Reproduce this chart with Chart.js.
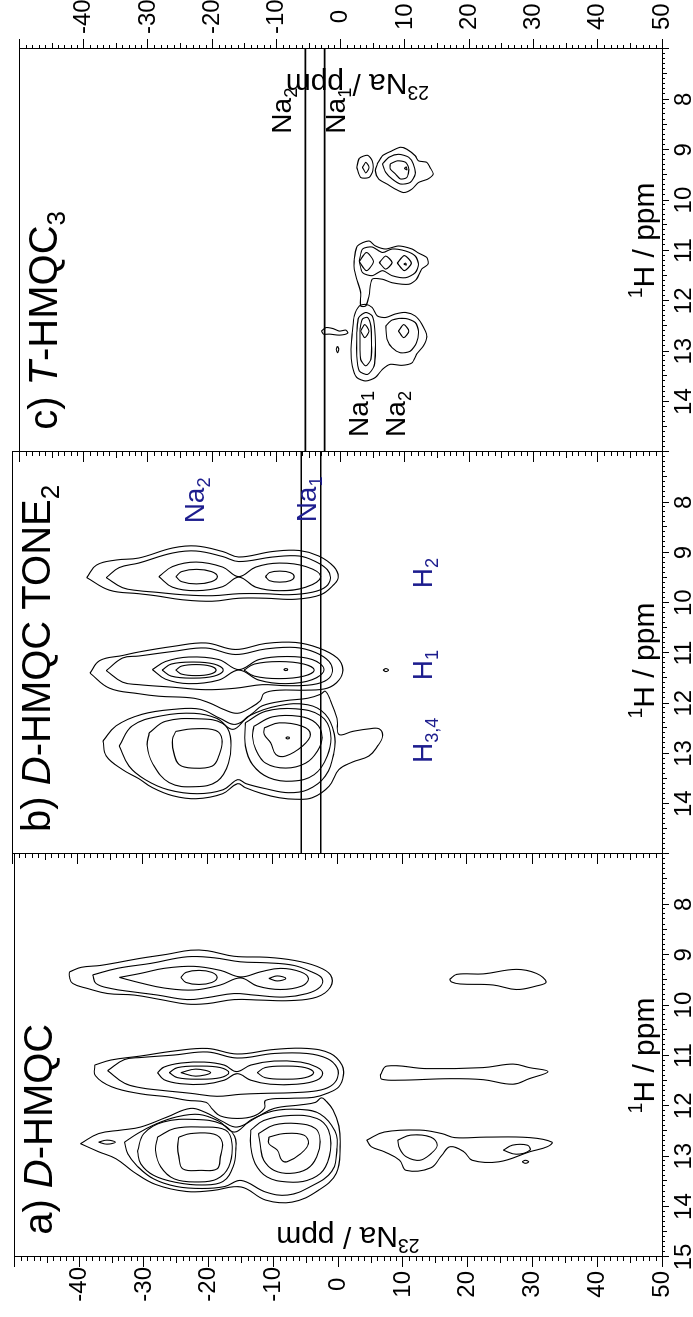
<!DOCTYPE html>
<html><head><meta charset="utf-8">
<script src="https://cdn.jsdelivr.net/npm/chart.js@4.4.1/dist/chart.umd.min.js"></script>
<style>
html,body{margin:0;padding:0;background:#fff;}
body{width:693px;height:1317px;overflow:hidden;position:relative;}
#land{position:absolute;left:0;top:0;width:1317px;height:693px;transform-origin:0 0;transform:rotate(-90deg) translateX(-1317px);}
#land canvas{position:absolute;left:0;top:0;}
</style></head><body>
<div id="land">
<canvas id="ca" width="1317" height="693"></canvas>
<canvas id="cb" width="1317" height="693"></canvas>
<canvas id="cc" width="1317" height="693"></canvas>
</div>
<script>
// ---------- axis values ----------
const H_TICKS = [7, 8, 9, 10, 11, 12, 13, 14, 15];          // 1H / ppm
const H_LABELS_A = [8, 9, 10, 11, 12, 13, 14, 15];
const H_LABELS_BC = [8, 9, 10, 11, 12, 13, 14];
const NA_TICKS = [-50, -40, -30, -20, -10, 0, 10, 20, 30, 40, 50]; // 23Na / ppm
const NA_LABELS = [-40, -30, -20, -10, 0, 10, 20, 30, 40, 50];
const NA_REF_LINES = [-5.5, -2.5];   // Na2, Na1 reference shifts

// ---------- contour lines, each point = [23Na ppm, 1H ppm] ----------
// panel a) D-HMQC
const a_H2 = [
 [[-41.5,9.34],[-39.7,9.25],[-36.6,9.21],[-30.5,9.07],[-26.4,8.99],[-22.8,8.91],[-20.2,8.92],[-16.1,9.03],[-11.0,9.05],[-6.9,9.11],[-3.3,9.23],[-1.2,9.40],[-1.2,9.64],[-3.3,9.84],[-7.4,9.91],[-12.0,9.90],[-16.1,9.89],[-20.2,9.97],[-23.3,9.98],[-27.4,9.89],[-31.5,9.80],[-35.6,9.77],[-38.7,9.67],[-41.0,9.57],[-41.5,9.44]],
 [[-37.9,9.40],[-34.1,9.27],[-28.9,9.17],[-23.3,9.04],[-19.2,9.06],[-15.1,9.14],[-11.0,9.16],[-6.9,9.21],[-4.1,9.34],[-2.5,9.47],[-2.8,9.64],[-4.8,9.77],[-8.4,9.84],[-13.0,9.80],[-16.1,9.77],[-20.2,9.85],[-23.3,9.89],[-27.9,9.80],[-31.5,9.74],[-35.1,9.67],[-37.4,9.57]],
 [[-33.8,9.45],[-30.5,9.37],[-26.9,9.27],[-22.3,9.23],[-18.2,9.31],[-15.1,9.44],[-12.0,9.34],[-8.9,9.27],[-5.8,9.34],[-4.6,9.47],[-5.6,9.62],[-8.9,9.69],[-12.5,9.62],[-15.1,9.46],[-18.2,9.60],[-22.3,9.70],[-26.9,9.66],[-30.5,9.56]],
 [[-24.3,9.45],[-23.5,9.35],[-21.5,9.31],[-19.5,9.35],[-18.7,9.45],[-19.5,9.55],[-21.5,9.59],[-23.5,9.55]],
 [[-10.7,9.47],[-9.4,9.42],[-8.1,9.47],[-9.4,9.52]]
];
const a_H1 = [
 [[-37.6,11.19],[-35.1,11.09],[-30.5,11.01],[-25.3,10.91],[-20.2,10.86],[-15.6,10.97],[-9.9,10.88],[-4.8,10.86],[-1.2,10.96],[0.6,11.19],[0.8,11.39],[0.1,11.62],[-1.7,11.75],[-3.8,11.83],[-7.4,11.85],[-11.2,11.89],[-11.4,12.05],[-13.0,12.20],[-15.6,12.25],[-18.2,12.20],[-19.4,12.07],[-20.4,11.93],[-23.3,11.89],[-26.4,11.82],[-30.5,11.76],[-35.0,11.62],[-37.5,11.40]],
 [[-35.6,11.30],[-33.0,11.08],[-30.5,11.04],[-25.3,10.99],[-20.2,10.93],[-15.6,11.05],[-9.9,10.96],[-4.8,10.96],[-1.7,11.06],[-0.2,11.24],[-0.1,11.44],[-1.2,11.61],[-3.3,11.70],[-7.4,11.74],[-11.0,11.75],[-15.1,11.77],[-18.7,11.81],[-22.8,11.75],[-27.4,11.69],[-30.5,11.64],[-33.0,11.55]],
 [[-27.9,11.34],[-26.9,11.23],[-24.3,11.15],[-20.7,11.13],[-17.6,11.19],[-15.7,11.32],[-13.5,11.19],[-9.9,11.11],[-5.8,11.13],[-3.3,11.23],[-2.4,11.35],[-3.3,11.49],[-6.4,11.57],[-10.5,11.57],[-13.5,11.49],[-15.6,11.36],[-17.6,11.49],[-20.7,11.57],[-24.3,11.56],[-26.9,11.48]],
 [[-26.1,11.34],[-24.8,11.24],[-21.5,11.21],[-18.2,11.24],[-16.9,11.34],[-18.2,11.44],[-21.5,11.47],[-24.8,11.44]],
 [[-12.5,11.34],[-11.3,11.24],[-8.2,11.21],[-5.1,11.24],[-3.8,11.34],[-5.1,11.44],[-8.2,11.47],[-11.3,11.44]],
 [[-24.3,11.34],[-22.0,11.27],[-19.7,11.34],[-22.0,11.41]]
];
const a_H34 = [
 [[-39.8,12.75],[-37.0,12.55],[-33.5,12.48],[-30.5,12.42],[-26.4,12.22],[-22.8,12.05],[-20.5,12.13],[-18.0,12.30],[-15.6,12.42],[-12.5,12.22],[-9.9,12.05],[-5.8,11.98],[-3.5,11.93],[-2.6,11.84],[-1.9,11.90],[-0.8,12.08],[0.1,12.40],[0.3,12.81],[-0.3,13.34],[-3.1,13.68],[-7.1,13.91],[-11.2,13.87],[-15.0,13.61],[-19.4,13.68],[-23.4,13.70],[-28.2,13.56],[-31.6,13.31],[-34.3,13.05],[-37.0,12.91]],
 [[-33.0,12.72],[-31.0,12.55],[-28.5,12.38],[-25.0,12.22],[-21.5,12.17],[-18.5,12.30],[-16.0,12.52],[-13.5,12.28],[-10.0,12.10],[-6.0,12.07],[-2.8,12.16],[-0.5,12.50],[-0.2,12.85],[-1.0,13.30],[-4.4,13.61],[-7.8,13.77],[-11.2,13.71],[-15.0,13.48],[-17.5,13.60],[-21.0,13.64],[-25.0,13.60],[-28.5,13.45],[-31.0,13.20],[-32.5,12.95]],
 [[-31.0,12.90],[-30.0,12.55],[-27.0,12.32],[-22.0,12.27],[-18.0,12.36],[-16.0,12.60],[-15.8,12.85],[-16.2,13.20],[-17.8,13.50],[-21.0,13.57],[-25.0,13.52],[-28.5,13.38],[-30.5,13.15]],
 [[-27.9,12.62],[-25.3,12.45],[-21.2,12.42],[-17.4,12.48],[-16.4,12.75],[-16.9,13.21],[-18.7,13.45],[-21.7,13.51],[-25.3,13.45],[-27.4,13.21],[-28.2,12.88]],
 [[-24.6,12.62],[-22.8,12.55],[-19.2,12.56],[-17.9,12.72],[-18.2,13.01],[-18.7,13.25],[-21.2,13.28],[-24.0,13.25],[-24.6,13.01],[-24.8,12.81]],
 [[-13.5,12.48],[-11.5,12.29],[-7.4,12.19],[-3.3,12.25],[-1.5,12.48],[-1.2,12.88],[-2.3,13.28],[-4.8,13.48],[-7.9,13.51],[-11.0,13.41],[-12.8,13.15],[-13.5,12.81]],
 [[-12.3,12.55],[-9.9,12.38],[-6.4,12.35],[-3.5,12.45],[-2.8,12.68],[-3.3,13.01],[-4.8,13.25],[-7.4,13.34],[-9.9,13.28],[-11.5,13.08],[-12.0,12.81]],
 [[-10.7,12.62],[-8.4,12.55],[-5.3,12.58],[-4.6,12.75],[-5.8,12.95],[-7.9,13.11],[-8.7,13.08],[-9.4,12.88],[-10.7,12.75]],
 [[-37.0,12.72],[-35.7,12.68],[-34.4,12.72],[-35.7,12.76]]
];
const a_pos = [
 [[17.2,9.49],[18.3,9.39],[22.4,9.38],[27.5,9.29],[30.6,9.37],[32.1,9.54],[30.6,9.62],[27.5,9.69],[23.9,9.60],[18.8,9.58],[17.5,9.54]],
 [[6.5,11.39],[7.5,11.21],[13.6,11.26],[22.4,11.24],[27.0,11.17],[29.5,11.24],[32.4,11.32],[29.5,11.46],[27.0,11.57],[22.4,11.48],[17.2,11.46],[9.5,11.49],[6.7,11.47]],
 [[4.4,12.68],[7.1,12.52],[12.6,12.48],[16.0,12.55],[18.0,12.63],[22.8,12.62],[29.6,12.63],[33.0,12.72],[32.3,12.81],[29.6,12.91],[24.8,13.11],[20.7,13.08],[19.4,12.91],[17.3,12.81],[16.0,12.98],[14.3,13.23],[10.5,13.28],[9.5,13.08],[7.1,12.91],[5.1,12.81]],
 [[9.2,12.68],[11.2,12.58],[14.3,12.62],[15.3,12.78],[14.3,12.95],[12.6,13.08],[10.5,13.01],[9.5,12.85]],
 [[25.5,12.88],[26.9,12.78],[29.2,12.78],[29.6,12.88],[27.5,12.96]],
 [[28.4,13.11],[28.9,13.08],[29.4,13.11],[28.9,13.14]]
];
// panel b) D-HMQC TONE2
const b_H2 = [
 [[-38.5,9.50],[-37.0,9.25],[-34.0,9.15],[-30.5,9.11],[-25.3,8.91],[-21.7,8.87],[-17.6,8.98],[-15.1,9.09],[-9.9,8.98],[-5.8,8.96],[-2.8,9.07],[-0.5,9.28],[0.2,9.49],[-0.5,9.64],[-2.5,9.84],[-6.4,9.93],[-11.0,9.91],[-15.1,9.91],[-19.2,9.97],[-23.8,9.94],[-27.9,9.86],[-30.5,9.82],[-35.0,9.75]],
 [[-35.5,9.50],[-33.5,9.30],[-30.5,9.21],[-25.3,9.01],[-21.7,8.97],[-17.6,9.08],[-15.1,9.18],[-9.9,9.09],[-5.8,9.07],[-3.3,9.18],[-1.5,9.34],[-1.0,9.51],[-1.7,9.68],[-3.8,9.79],[-7.4,9.84],[-11.0,9.82],[-15.1,9.82],[-19.2,9.86],[-23.8,9.84],[-27.9,9.79],[-30.5,9.76],[-33.0,9.70]],
 [[-27.4,9.48],[-25.3,9.28],[-21.7,9.19],[-17.6,9.29],[-15.1,9.48],[-12.5,9.29],[-8.9,9.21],[-4.8,9.28],[-2.5,9.48],[-4.8,9.69],[-8.9,9.76],[-12.5,9.69],[-15.1,9.49],[-17.6,9.68],[-21.7,9.76],[-25.3,9.69]],
 [[-24.8,9.48],[-23.9,9.38],[-21.6,9.335],[-19.3,9.38],[-18.4,9.48],[-19.3,9.58],[-21.6,9.625],[-23.9,9.58]],
 [[-11.0,9.48],[-10.4,9.40],[-8.8,9.37],[-7.2,9.40],[-6.6,9.48],[-7.2,9.56],[-8.8,9.59],[-10.4,9.56]]
];
const b_H1 = [
 [[-38.0,11.40],[-36.5,11.15],[-33.0,11.05],[-30.5,10.98],[-25.3,10.87],[-20.2,10.80],[-15.6,10.93],[-11.0,10.81],[-6.4,10.79],[-2.8,10.90],[0.05,11.10],[0.9,11.33],[0.3,11.54],[-1.5,11.70],[-4.8,11.74],[-8.9,11.74],[-11.2,11.80],[-11.8,11.95],[-13.2,12.08],[-15.3,12.20],[-17.5,12.12],[-19.5,12.00],[-22.0,11.90],[-27.4,11.86],[-30.5,11.81],[-35.0,11.70]],
 [[-35.5,11.35],[-33.0,11.10],[-30.5,11.06],[-25.3,10.97],[-20.2,10.90],[-15.6,11.03],[-11.0,10.92],[-6.4,10.89],[-3.3,10.99],[-1.2,11.17],[-0.7,11.36],[-1.5,11.53],[-3.8,11.63],[-7.9,11.65],[-11.5,11.63],[-15.6,11.70],[-20.2,11.73],[-25.3,11.68],[-30.5,11.63],[-33.0,11.58]],
 [[-28.4,11.33],[-26.4,11.17],[-22.8,11.08],[-18.2,11.13],[-15.1,11.33],[-12.0,11.13],[-7.9,11.07],[-3.8,11.13],[-2.0,11.33],[-3.8,11.53],[-7.9,11.61],[-12.0,11.54],[-15.1,11.34],[-18.2,11.54],[-22.8,11.61],[-26.4,11.52]],
 [[-26.9,11.34],[-25.5,11.22],[-22.2,11.18],[-18.9,11.22],[-17.5,11.34],[-18.9,11.46],[-22.2,11.50],[-25.5,11.46]],
 [[-24.8,11.34],[-23.9,11.26],[-21.7,11.23],[-19.5,11.26],[-18.6,11.34],[-19.5,11.42],[-21.7,11.45],[-23.9,11.42]],
 [[-14.3,11.34],[-12.7,11.22],[-8.9,11.17],[-5.1,11.22],[-3.5,11.34],[-5.1,11.46],[-8.9,11.51],[-12.7,11.46]],
 [[-8.2,11.33],[-7.9,11.31],[-7.6,11.33],[-7.9,11.35]],
 [[7.1,11.34],[7.5,11.31],[7.9,11.34],[7.5,11.37]]
];
const b_H34 = [
 [[-36.0,12.75],[-34.0,12.45],[-30.0,12.22],[-25.0,12.12],[-21.0,12.12],[-18.0,12.30],[-15.6,12.42],[-13.0,12.20],[-11.5,12.05],[-8.0,11.95],[-4.5,11.90],[-2.5,11.82],[-1.8,11.76],[-1.0,11.95],[0.0,12.30],[0.3,12.62],[2.4,12.56],[4.9,12.51],[6.5,12.51],[7.0,12.66],[6.2,12.86],[4.9,13.05],[2.4,13.17],[0.3,13.32],[-1.2,13.65],[-3.8,13.88],[-6.4,13.91],[-8.9,13.88],[-11.5,13.80],[-14.1,13.68],[-15.3,13.60],[-17.6,13.80],[-21.7,13.90],[-25.3,13.84],[-28.4,13.68],[-30.5,13.50],[-33.0,13.32],[-35.5,13.05]],
 [[-33.5,12.85],[-31.5,12.45],[-27.0,12.25],[-22.0,12.20],[-18.5,12.30],[-16.0,12.52],[-13.5,12.25],[-9.0,12.05],[-4.5,12.03],[-1.8,12.22],[-0.4,12.62],[-0.5,13.00],[-1.8,13.45],[-4.5,13.72],[-7.5,13.78],[-11.0,13.70],[-14.0,13.60],[-15.3,13.52],[-17.5,13.72],[-21.5,13.80],[-26.0,13.72],[-29.5,13.52],[-32.0,13.25]],
 [[-28.9,12.59],[-26.4,12.36],[-21.2,12.31],[-17.6,12.40],[-16.4,12.66],[-16.7,13.19],[-18.4,13.55],[-21.7,13.66],[-25.8,13.58],[-28.4,13.19],[-29.2,12.85]],
 [[-24.8,12.56],[-22.3,12.51],[-18.7,12.54],[-17.7,12.72],[-18.2,13.05],[-19.2,13.25],[-22.3,13.29],[-24.3,13.22],[-25.1,12.99],[-25.3,12.72]],
 [[-14.1,12.39],[-11.0,12.16],[-6.4,12.11],[-2.5,12.25],[-1.0,12.59],[-1.5,13.05],[-3.5,13.42],[-6.9,13.55],[-10.5,13.48],[-13.0,13.22],[-14.1,12.85]],
 [[-12.8,12.46],[-9.9,12.27],[-5.8,12.26],[-3.3,12.39],[-2.3,12.66],[-3.0,12.95],[-4.8,13.19],[-7.9,13.29],[-11.0,13.19],[-12.5,12.92],[-13.0,12.66]],
 [[-11.2,12.49],[-8.9,12.39],[-5.3,12.46],[-4.1,12.62],[-5.3,12.85],[-7.9,13.05],[-9.4,13.02],[-10.2,12.79],[-11.2,12.62]],
 [[-7.9,12.69],[-7.6,12.67],[-7.3,12.69],[-7.6,12.71]]
];
// panel c) T-HMQC3
const c_H2 = [
 [[5.7,9.28],[6.5,9.12],[8.0,9.02],[9.3,8.95],[10.3,8.99],[11.6,9.12],[12.1,9.22],[13.4,9.25],[13.9,9.35],[14.4,9.48],[13.6,9.58],[12.1,9.65],[11.1,9.78],[9.8,9.85],[8.5,9.78],[7.2,9.68],[5.9,9.58],[5.4,9.42]],
 [[2.5,9.35],[2.9,9.17],[4.2,9.11],[4.9,9.22],[5.0,9.42],[4.4,9.55],[3.1,9.55]],
 [[6.5,9.28],[7.5,9.15],[9.0,9.09],[10.6,9.15],[11.3,9.28],[11.6,9.48],[10.8,9.65],[9.3,9.68],[8.0,9.58],[7.0,9.45]],
 [[7.7,9.28],[8.8,9.22],[10.1,9.25],[10.6,9.38],[10.3,9.55],[9.3,9.58],[8.5,9.48],[7.7,9.38]],
 [[3.4,9.35],[3.9,9.25],[4.4,9.35],[3.9,9.46]],
 [[9.9,9.37],[10.2,9.34],[10.3,9.40]]
];
const c_H1 = [
 [[2.1,11.17],[2.6,10.91],[4.4,10.81],[5.4,10.91],[7.0,10.97],[9.0,10.91],[11.1,10.97],[12.1,11.05],[13.4,11.14],[13.6,11.27],[12.6,11.37],[11.8,11.57],[10.6,11.67],[8.0,11.64],[6.5,11.57],[4.9,11.57],[4.4,11.90],[3.9,12.10],[3.1,12.10],[3.1,11.83],[2.5,11.57],[2.1,11.37]],
 [[2.9,11.21],[3.4,10.97],[4.9,10.93],[6.5,11.04],[8.0,10.97],[10.1,11.01],[11.6,11.11],[12.1,11.27],[11.6,11.44],[10.1,11.54],[8.0,11.50],[6.5,11.40],[4.9,11.50],[3.4,11.44]],
 [[2.9,11.22],[4.0,11.04],[5.1,11.22],[4.0,11.40]],
 [[6.0,11.24],[7.0,11.11],[8.0,11.24],[7.0,11.37]],
 [[8.8,11.25],[9.9,11.10],[11.0,11.25],[9.9,11.40]],
 [[9.8,11.27],[10.1,11.25],[10.2,11.29]]
];
const c_H34 = [
 [[1.8,12.63],[2.1,12.30],[2.9,12.10],[3.9,12.07],[4.9,12.13],[5.7,12.30],[7.0,12.33],[8.5,12.26],[10.1,12.23],[11.6,12.30],[12.6,12.46],[13.4,12.70],[12.9,12.89],[11.8,13.06],[11.1,13.23],[9.5,13.28],[7.7,13.26],[6.5,13.36],[5.4,13.52],[3.9,13.59],[2.5,13.52],[1.8,13.29],[1.6,12.96]],
 [[2.5,12.63],[2.8,12.33],[3.9,12.23],[4.9,12.30],[5.3,12.56],[5.4,12.96],[5.2,13.29],[4.2,13.46],[2.9,13.39],[2.5,13.09]],
 [[3.0,12.56],[3.4,12.36],[4.2,12.33],[4.7,12.50],[4.8,12.83],[4.7,13.16],[3.9,13.29],[3.1,13.16],[3.0,12.89]],
 [[3.1,12.60],[3.75,12.47],[4.4,12.60],[3.75,12.73]],
 [[7.0,12.50],[8.0,12.38],[10.1,12.35],[11.6,12.43],[12.1,12.60],[11.8,12.83],[10.8,13.00],[9.3,13.03],[8.0,12.93],[7.2,12.76]],
 [[9.0,12.60],[9.8,12.47],[10.6,12.60],[9.8,12.73]],
 [[-3.0,12.60],[-2.3,12.53],[-1.2,12.55],[-0.2,12.60],[0.8,12.58],[1.1,12.64],[-0.2,12.68],[-1.7,12.66],[-2.7,12.66]],
 [[-0.5,12.90],[-0.3,12.96],[-0.5,13.03],[-0.7,12.96]]
];

// ---------- texts ----------
const TITLE_A = [{t:'a) '},{t:'D',i:1},{t:'-HMQC'}];
const TITLE_B = [{t:'b) '},{t:'D',i:1},{t:'-HMQC TONE'},{t:'2',s:'sub'}];
const TITLE_C = [{t:'c) '},{t:'T',i:1},{t:'-HMQC'},{t:'3',s:'sub'}];
const H_TITLE = [{t:'1',s:'sup'},{t:'H / ppm'}];
const NA_TITLE = [{t:'23',s:'sup'},{t:'Na / ppm'}];
const NA1 = [{t:'Na'},{t:'1',s:'sub'}];
const NA2 = [{t:'Na'},{t:'2',s:'sub'}];
const H1L = [{t:'H'},{t:'1',s:'sub'}];
const H2L = [{t:'H'},{t:'2',s:'sub'}];
const H34L = [{t:'H'},{t:'3,4',s:'sub'}];

const FONT = "'Liberation Sans', Arial, Helvetica, sans-serif";
const BLUE = '#1d1d8e';
Chart.defaults.font.family = FONT;
Chart.defaults.color = '#000';

// anchor of each text in data units (1H, 23Na)
const TEXTS = {
  ca: [
    {p:TITLE_A, h:14.56, n:-44.2, size:40},
    {p:H_TITLE, h:11.0, n:48.8, size:30, align:'center'},
    {p:NA_TITLE, h:14.41, n:1.5, size:30, align:'center', rot:-90}
  ],
  cb: [
    {p:TITLE_B, h:14.56, n:-44.2, size:40},
    {p:H_TITLE, h:11.15, n:48.8, size:30, align:'center'},
    {p:NA2, h:8.42, n:-20.5, size:28, color:BLUE},
    {p:NA1, h:8.40, n:-3.2, size:28, color:BLUE},
    {p:H2L, h:9.71, n:14.6, size:28, color:BLUE},
    {p:H1L, h:11.54, n:14.6, size:28, color:BLUE},
    {p:H34L, h:13.19, n:14.6, size:28, color:BLUE}
  ],
  cc: [
    {p:TITLE_C, h:14.56, n:-44.2, size:40},
    {p:H_TITLE, h:10.8, n:48.8, size:30, align:'center'},
    {p:NA_TITLE, h:7.49, n:2.6, size:30, align:'center', rot:-90},
    {p:NA2, h:8.68, n:-7.8, size:28},
    {p:NA1, h:8.68, n:0.6, size:28},
    {p:NA1, h:14.70, n:4.2, size:28},
    {p:NA2, h:14.70, n:10.0, size:28}
  ]
};

function drawRich(ctx, parts, x, y, size, color, rot, align) {
  ctx.save();
  ctx.translate(x, y);
  if (rot) ctx.rotate(rot * Math.PI / 180);
  ctx.fillStyle = color; ctx.textBaseline = 'alphabetic'; ctx.textAlign = 'left';
  const pieces = parts.map(p => {
    const fs = p.s ? size * 0.65 : size;
    const font = (p.i ? 'italic ' : '') + fs + 'px ' + FONT;
    ctx.font = font;
    return {t:p.t, font, w:ctx.measureText(p.t).width, dy: p.s === 'sub' ? size * 0.22 : (p.s === 'sup' ? -size * 0.4 : 0)};
  });
  const total = pieces.reduce((a, b) => a + b.w, 0);
  let cx = align === 'center' ? -total / 2 : 0;
  for (const p of pieces) { ctx.font = p.font; ctx.fillText(p.t, cx, p.dy); cx += p.w; }
  ctx.restore();
}

const panelText = {
  id: 'panelText',
  afterDraw(chart) {
    const items = TEXTS[chart.canvas.id] || [];
    const xs = chart.scales.x, ys = chart.scales.y;
    for (const it of items) {
      drawRich(chart.ctx, it.p, xs.getPixelForValue(it.h), ys.getPixelForValue(it.n), it.size, it.color || '#000', it.rot || 0, it.align || 'left');
    }
  }
};

const frameAndMinor = {
  id: 'frameAndMinor',
  afterDraw(chart) {
    const ctx = chart.ctx, ca = chart.chartArea;
    ctx.save();
    ctx.strokeStyle = '#000'; ctx.lineWidth = 1;
    ctx.strokeRect(Math.round(ca.left) + 0.5, Math.round(ca.top) + 0.5, Math.round(ca.right - ca.left), Math.round(ca.bottom - ca.top));
    const xs = chart.scales.x;
    for (let i = H_TICKS[0] * 10; i <= H_TICKS[H_TICKS.length - 1] * 10; i++) {
      if (i % 10 === 0) continue;
      const px = Math.round(xs.getPixelForValue(i / 10)) + 0.5;
      const len = (i % 5 === 0) ? 5 : 3;
      ctx.beginPath(); ctx.moveTo(px, ca.bottom); ctx.lineTo(px, ca.bottom + len); ctx.stroke();
    }
    for (const id of Object.keys(chart.scales)) {
      const s = chart.scales[id];
      if (s.axis !== 'y') continue;
      const left = s.position === 'left';
      const x0 = left ? Math.round(ca.left) : Math.round(ca.right);
      for (let v = NA_TICKS[0]; v <= NA_TICKS[NA_TICKS.length - 1]; v++) {
        if (v % 10 === 0) continue;
        const py = Math.round(s.getPixelForValue(v)) + 0.5;
        const len = (v % 5 === 0) ? 6 : 4;
        ctx.beginPath(); ctx.moveTo(x0, py); ctx.lineTo(left ? x0 - len : x0 + len, py); ctx.stroke();
      }
    }
    ctx.restore();
  }
};

function contourSets(groups, tension) {
  const out = [];
  for (const g of groups) for (const c of g) {
    out.push({
      data: c.concat([c[0]]).map(p => ({x: p[1], y: p[0]})),
      showLine: true, pointRadius: 0, borderColor: '#000', borderWidth: 1.1, tension: tension, fill: false
    });
  }
  return out;
}
function refLineSets() {
  return NA_REF_LINES.map(n => ({
    data: [{x: H_TICKS[0], y: n}, {x: H_TICKS[H_TICKS.length - 1], y: n}],
    showLine: true, pointRadius: 0, borderColor: '#000', borderWidth: 1.6, tension: 0
  }));
}

function xScale(labels) {
  return {
    type: 'linear', min: 7, max: 15, reverse: true, position: 'bottom',
    afterBuildTicks: s => { s.ticks = H_TICKS.map(v => ({value: v})); },
    ticks: {font: {size: 24}, color: '#000', padding: 1, maxRotation: 0, autoSkip: false,
            callback: v => labels.includes(v) ? String(v) : ''},
    grid: {drawOnChartArea: false, drawTicks: true, tickLength: 7, color: '#000', lineWidth: 1},
    border: {display: true, color: '#000', width: 1},
    afterFit: s => { s.height = 31; }
  };
}
function yScale(pos, showLabels, width, pad) {
  return {
    type: 'linear', axis: 'y', min: -50, max: 50, reverse: true, position: pos,
    afterBuildTicks: s => { s.ticks = NA_TICKS.map(v => ({value: v})); },
    ticks: {display: showLabels, font: {size: 24}, color: '#000', padding: pad, crossAlign: 'center', autoSkip: false,
            callback: v => NA_LABELS.includes(v) ? String(v) : ''},
    grid: {drawOnChartArea: false, drawTicks: true, tickLength: 10, color: '#000', lineWidth: 1},
    border: {display: true, color: '#000', width: 1},
    afterFit: s => { s.width = width; }
  };
}

function makeChart(id, datasets, scales, padding) {
  return new Chart(document.getElementById(id), {
    type: 'scatter',
    data: {datasets},
    options: {
      responsive: false, animation: false, devicePixelRatio: 1,
      layout: {padding},
      plugins: {legend: {display: false}, tooltip: {enabled: false}},
      scales
    },
    plugins: [frameAndMinor, panelText]
  });
}

makeChart('ca', contourSets([a_H2, a_H1, a_H34, a_pos], 0.4),
  {x: xScale(H_LABELS_A), y: yScale('left', true, 60, 0)},
  {left: 0, right: 854, top: 12, bottom: 0});
makeChart('cb', contourSets([b_H2, b_H1, b_H34], 0.4).concat(refLineSets()),
  {x: xScale(H_LABELS_BC), y: yScale('left', false, 10, 0)},
  {left: 453, right: 452, top: 12, bottom: 0});
makeChart('cc', contourSets([c_H2, c_H1, c_H34], 0.25).concat(refLineSets()),
  {x: xScale(H_LABELS_BC), y: yScale('left', false, 10, 0), y2: yScale('right', true, 49, 5)},
  {left: 855, right: 0, top: 12, bottom: 0});
</script>
</body></html>
